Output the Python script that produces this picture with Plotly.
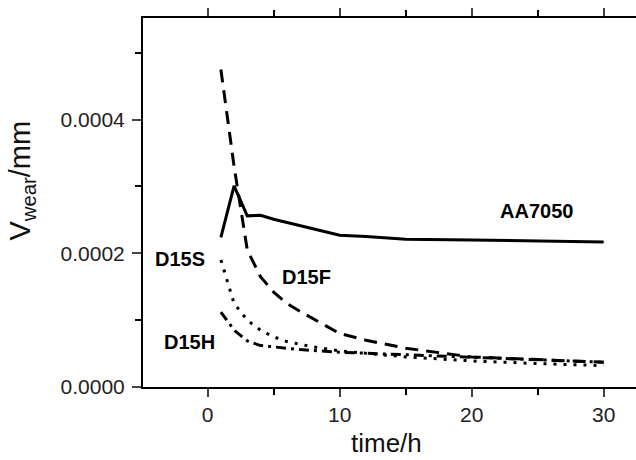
import plotly.graph_objects as go

# AA7050 (solid)
aa_x = [1, 2, 3, 4, 5, 6, 7, 8, 9, 10, 12, 15, 20, 25, 30]
aa_y = [0.000224, 0.000301, 0.000256, 0.000257, 0.000251, 0.000246, 0.000241, 0.000236,
        0.000231, 0.000227, 0.000225, 0.000221, 0.000220, 0.000219, 0.000217]
# D15F (dashed)
f_x = [1, 2, 3, 4, 5, 6, 7, 8, 9, 10, 12, 15, 20, 25, 30]
f_y = [0.000475, 0.000330, 0.000205, 0.000165, 0.000142, 0.000125, 0.000113, 0.000102,
       0.000090, 0.000080, 0.000070, 0.000058, 0.000045, 0.000041, 0.000037]
# D15S (dotted)
s_x = [1, 2, 3, 4, 5, 6, 8, 10, 15, 20, 25, 30]
s_y = [0.000190, 0.000125, 0.000100, 0.000085, 0.000075, 0.000068, 0.000060, 0.000054,
       0.000045, 0.000039, 0.000035, 0.000032]
# D15H (dash-dot)
h_x = [1, 2, 3, 4, 5, 7, 10, 15, 20, 25, 30]
h_y = [0.000112, 0.000085, 0.000069, 0.000062, 0.000060, 0.000056, 0.000052, 0.000048,
       0.000045, 0.000040, 0.000037]

labels = ["AA7050", "D15S", "D15F", "D15H"]
label_x = [24.9, -2.1, 7.45, -1.35]
label_y = [0.000264, 0.000191, 0.000165, 0.0000675]

x_ticks = [0, 10, 20, 30]
y_ticks = [0.0, 0.0002, 0.0004]

FONT = "Liberation Sans, Arial, sans-serif"

fig = go.Figure()
fig.add_trace(go.Scatter(x=aa_x, y=aa_y, mode="lines", line=dict(color="black", width=3)))
fig.add_trace(go.Scatter(x=f_x, y=f_y, mode="lines", line=dict(color="black", width=3, dash="13px,8px")))
fig.add_trace(go.Scatter(x=s_x, y=s_y, mode="lines", line=dict(color="black", width=3, dash="3px,7px")))
fig.add_trace(go.Scatter(x=h_x, y=h_y, mode="lines", line=dict(color="black", width=3, dash="10px,5px,3px,5px")))

for t, lx, ly in zip(labels, label_x, label_y):
    fig.add_annotation(x=lx, y=ly, xref="x", yref="y", text="<b>%s</b>" % t, showarrow=False,
                       font=dict(family=FONT, size=20, color="black"))

fig.add_annotation(x=0.4945, y=-0.152, xref="paper", yref="paper",
                   text="time/h", showarrow=False, xanchor="center", yanchor="middle",
                   font=dict(family=FONT, size=26, color="#111"))
fig.add_annotation(x=-0.245, y=0.56, xref="paper", yref="paper", textangle=-90,
                   text="V<sub>wear</sub>/mm", showarrow=False, xanchor="center", yanchor="middle",
                   font=dict(family=FONT, size=29, color="#111"))

fig.update_layout(
    width=636, height=460,
    margin=dict(l=143, r=0, t=18, b=73),
    paper_bgcolor="white", plot_bgcolor="white",
    showlegend=False,
    font=dict(family=FONT, size=21, color="#222"),
)
fig.update_xaxes(range=[-4.9, 32.45], tickvals=x_ticks, ticks="outside", ticklen=8, tickwidth=2,
                 showline=True, linewidth=2, linecolor="black", mirror="allticks",
                 showgrid=False, zeroline=False,
                 minor=dict(dtick=5, tick0=0, ticks="outside", ticklen=6, tickwidth=2, tickcolor="black"),
                 tickfont=dict(family=FONT, size=21, color="#222"))
fig.update_yaxes(range=[0, 0.000552], tickvals=y_ticks, tickformat=".4f", ticks="outside", ticklen=9,
                 tickwidth=2, showline=True, linewidth=2, linecolor="black", mirror=False,
                 showgrid=False, zeroline=False, ticklabelstandoff=3,
                 minor=dict(dtick=0.0001, tick0=0, ticks="outside", ticklen=6, tickwidth=2, tickcolor="black"),
                 tickfont=dict(family=FONT, size=21, color="#222"))

fig.write_html("out.html")
